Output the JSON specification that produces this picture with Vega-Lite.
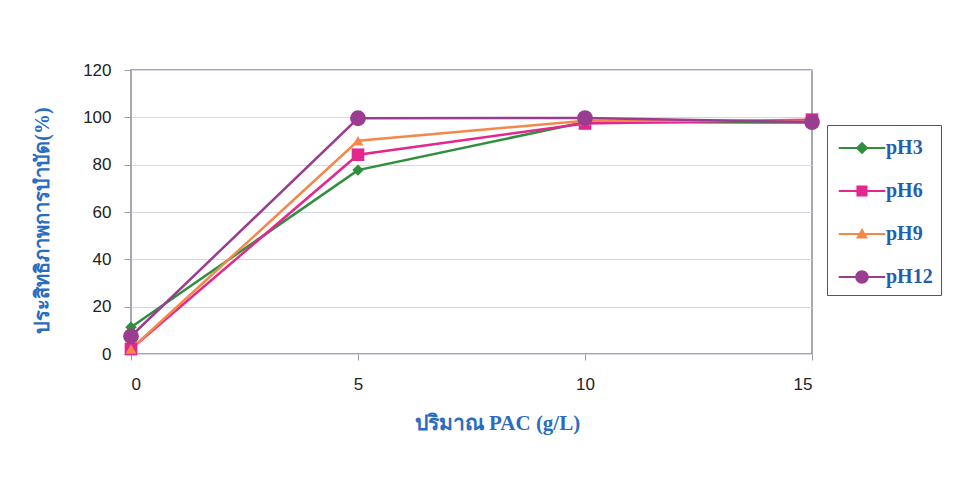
{
  "$schema": "https://vega.github.io/schema/vega-lite/v6.json",
  "autosize": "none",
  "width": 681,
  "height": 284,
  "padding": {"left": 131, "top": 70, "right": 141, "bottom": 128},
  "background": "white",
  "data": {
    "values": [
      {"pac": 0, "series": "pH3", "eff": 11.3},
      {"pac": 5, "series": "pH3", "eff": 77.7},
      {"pac": 10, "series": "pH3", "eff": 98.0},
      {"pac": 15, "series": "pH3", "eff": 97.8},
      {"pac": 0, "series": "pH6", "eff": 2.1},
      {"pac": 5, "series": "pH6", "eff": 84.2},
      {"pac": 10, "series": "pH6", "eff": 97.4},
      {"pac": 15, "series": "pH6", "eff": 99.0},
      {"pac": 0, "series": "pH9", "eff": 2.1},
      {"pac": 5, "series": "pH9", "eff": 90.1},
      {"pac": 10, "series": "pH9", "eff": 98.6},
      {"pac": 15, "series": "pH9", "eff": 98.5},
      {"pac": 0, "series": "pH12", "eff": 7.5},
      {"pac": 5, "series": "pH12", "eff": 99.6},
      {"pac": 10, "series": "pH12", "eff": 99.7},
      {"pac": 15, "series": "pH12", "eff": 98.0}
    ]
  },
  "encoding": {
    "x": {
      "field": "pac",
      "type": "quantitative",
      "scale": {"domain": [0, 15], "nice": false, "zero": false},
      "axis": {
        "values": [0, 5, 10, 15],
        "title": "ปริมาณ PAC (g/L)",
        "grid": false,
        "domain": false,
        "tickColor": "#9a9aa8",
        "tickSize": 6,
        "labelPadding": 16,
        "labelFont": "Liberation Sans",
        "labelFontSize": 17,
        "labelColor": "#222222",
        "titleFont": "Liberation Serif",
        "titleFontWeight": "bold",
        "titleFontSize": 21,
        "titleColor": "#2a6cc0",
        "titlePadding": 20,
        "titleX": 366
      }
    },
    "y": {
      "field": "eff",
      "type": "quantitative",
      "scale": {"domain": [0, 120], "nice": false},
      "axis": {
        "values": [0, 20, 40, 60, 80, 100, 120],
        "title": "ประสิทธิภาพการบำบัด(%)",
        "grid": true,
        "gridColor": "#d6d6e4",
        "gridWidth": 1,
        "domain": false,
        "tickColor": "#9a9aa8",
        "tickSize": 7,
        "labelPadding": 13,
        "labelFont": "Liberation Sans",
        "labelFontSize": 17,
        "labelColor": "#222222",
        "titleFont": "Liberation Serif",
        "titleFontWeight": "bold",
        "titleFontSize": 20,
        "titleColor": "#2a6cc0",
        "titlePadding": 30,
        "titleY": 150
      }
    },
    "color": {
      "field": "series",
      "type": "nominal",
      "sort": ["pH3", "pH6", "pH9", "pH12"],
      "scale": {
        "domain": ["pH3", "pH6", "pH9", "pH12"],
        "range": ["#2f8f3c", "#e2288e", "#f4884a", "#9a3c90"]
      },
      "legend": {
        "title": null,
        "orient": "none",
        "legendX": 696,
        "legendY": 55,
        "padding": 8,
        "symbolOffset": 12,
        "symbolSize": 900,
        "symbolStrokeWidth": 0,
        "symbolType": "circle",
        "labelOffset": 9,
        "rowPadding": 18,
        "strokeColor": "#555555",
        "fillColor": "white",
        "labelFont": "Liberation Serif",
        "labelFontWeight": "bold",
        "labelFontSize": 20,
        "labelColor": "#1f5fb0",
        "encode": {
          "symbols": {
            "update": {
              "shape": {"signal": "datum.value === 'pH3' ? 'M-1.55,-0.07H1.55V0.07H-1.55Z M0,-0.42L0.42,0L0,0.42L-0.42,0Z' : datum.value === 'pH6' ? 'M-1.55,-0.07H1.55V0.07H-1.55Z M-0.37,-0.37H0.37V0.37H-0.37Z' : datum.value === 'pH9' ? 'M-1.55,-0.07H1.55V0.07H-1.55Z M0,-0.4L0.4,0.3H-0.4Z' : 'M-1.55,-0.07H1.55V0.07H-1.55Z M-0.45,0A0.45,0.45,0,1,1,0.45,0A0.45,0.45,0,1,1,-0.45,0Z'"},
              "fill": {"scale": "color", "field": "value"},
              "stroke": {"value": "transparent"},
              "opacity": {"value": 1}
            }
          }
        }
      }
    }
  },
  "layer": [
    {
      "mark": {"type": "line", "strokeWidth": 2.5},
      "encoding": {}
    },
    {
      "transform": [{"filter": "datum.series === 'pH3'"}],
      "mark": {"type": "point", "filled": true, "opacity": 1, "shape": "diamond", "size": 130},
      "encoding": {}
    },
    {
      "transform": [{"filter": "datum.series === 'pH6'"}],
      "mark": {"type": "point", "filled": true, "opacity": 1, "shape": "square", "size": 160},
      "encoding": {}
    },
    {
      "transform": [{"filter": "datum.series === 'pH9'"}],
      "mark": {"type": "point", "filled": true, "opacity": 1, "shape": "triangle-up", "size": 120},
      "encoding": {}
    },
    {
      "transform": [{"filter": "datum.series === 'pH12'"}],
      "mark": {"type": "point", "filled": true, "opacity": 1, "shape": "circle", "size": 250},
      "encoding": {}
    }
  ],
  "config": {
    "view": {"stroke": "#8a8a96", "strokeWidth": 1.5}
  }
}
